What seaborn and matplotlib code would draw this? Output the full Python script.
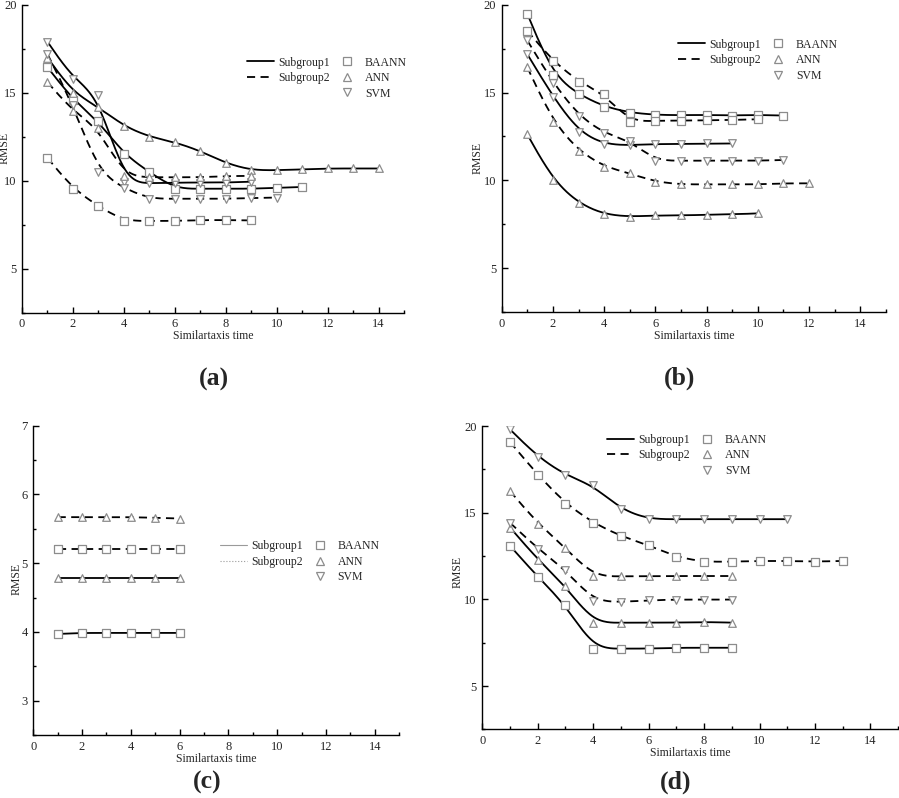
import numpy as np
import pandas as pd
import matplotlib
matplotlib.use("Agg")
import matplotlib.pyplot as plt
from matplotlib.lines import Line2D
from matplotlib.ticker import MultipleLocator
import seaborn as sns

# ------------------------------------
# DATA
# ------------------------------------

# panel (a)
A_BAANN_1 = [16.45, 14.6, 13.4, 11.5, 10.5, 9.55, 9.55, 9.55, 9.55, 9.6, 9.65]
A_ANN_1 = [17.0, 15.0, 14.2, 13.1, 12.5, 12.2, 11.7, 11.0, 10.6, 10.6, 10.65, 10.7, 10.7, 10.7]
A_SVM_1 = [17.9, 15.8, 14.85, 9.95, 9.85, 9.9, 9.9, 9.9, 9.95]
A_BAANN_2 = [11.3, 9.55, 8.55, 7.72, 7.72, 7.72, 7.77, 7.77, 7.75]
A_ANN_2 = [15.6, 13.95, 13.0, 10.28, 10.2, 10.2, 10.2, 10.27, 10.28]
A_SVM_2 = [17.2, 14.3, 10.5, 9.58, 8.98, 8.98, 8.98, 8.98, 9.02, 9.05]

# panel (b)
B_BAANN_1 = [19.49, 16.0, 14.9, 14.2, 13.86, 13.73, 13.71, 13.73, 13.69, 13.73, 13.69]
B_ANN_1 = [12.62, 10.02, 8.69, 8.06, 7.93, 8.0, 8.0, 8.04, 8.06, 8.12]
B_SVM_1 = [17.19, 14.77, 12.78, 12.05, 12.0, 12.07, 12.07, 12.1, 12.1]
B_BAANN_2 = [18.52, 16.8, 15.63, 14.92, 13.33, 13.4, 13.4, 13.42, 13.44, 13.48]
B_ANN_2 = [16.44, 13.35, 11.69, 10.78, 10.4, 9.92, 9.77, 9.77, 9.77, 9.77, 9.83, 9.83]
B_SVM_2 = [17.97, 15.57, 13.69, 12.68, 12.26, 11.12, 11.12, 11.12, 11.12, 11.12, 11.16]

# panel (c)
C_BAANN_1 = [3.97, 3.985, 3.985, 3.985, 3.985, 3.985]
C_ANN_1 = [4.78, 4.78, 4.78, 4.78, 4.78, 4.78]
C_BAANN_2 = [5.21, 5.21, 5.21, 5.21, 5.21, 5.21]
C_ANN_2 = [5.67, 5.67, 5.67, 5.67, 5.66, 5.65]

# panel (d)
D_BAANN_1 = [13.09, 11.3, 9.7, 7.16, 7.16, 7.16, 7.21, 7.21, 7.21]
D_ANN_1 = [14.15, 12.3, 10.78, 8.64, 8.66, 8.66, 8.66, 8.7, 8.66]
D_SVM_1 = [19.81, 18.23, 17.17, 16.59, 15.19, 14.63, 14.63, 14.63, 14.63, 14.63, 14.63]
D_BAANN_2 = [19.08, 17.19, 15.53, 14.42, 13.65, 13.13, 12.45, 12.16, 12.18, 12.22, 12.22, 12.18, 12.22]
D_ANN_2 = [16.25, 14.38, 12.99, 11.33, 11.33, 11.35, 11.35, 11.35, 11.35]
D_SVM_2 = [14.42, 12.93, 11.72, 9.89, 9.85, 9.95, 9.99, 9.99, 9.99]

MARKERS = {"BAANN": "s", "ANN": "^", "SVM": "v"}
DASH = (4.5, 3)

# ------------------------------------
# STYLE
# ------------------------------------

sns.set_theme(style="ticks")
plt.rcParams["font.family"] = ["Liberation Serif", "DejaVu Serif"]
plt.rcParams["font.size"] = 8.5
plt.rcParams["axes.linewidth"] = 1.0


def bspline(xs, ys, n=25):
    # uniform cubic B-spline, like Origin's smoothed connection
    P = np.column_stack([xs, ys]).astype(float)
    P = np.vstack([P[0], P[0], P, P[-1], P[-1]])
    t = np.linspace(0, 1, n)[:, None]
    b0 = (1 - t) ** 3 / 6
    b1 = (3 * t**3 - 6 * t**2 + 4) / 6
    b2 = (-3 * t**3 + 3 * t**2 + 3 * t + 1) / 6
    b3 = t**3 / 6
    segs = [b0 * P[i] + b1 * P[i + 1] + b2 * P[i + 2] + b3 * P[i + 3]
            for i in range(len(P) - 3)]
    return np.vstack(segs)


def draw_series(ax, values, model, group):
    xs = np.arange(1, len(values) + 1)
    curve = bspline(xs, values)
    sns.lineplot(x=curve[:, 0], y=curve[:, 1], ax=ax, sort=False,
                 estimator=None, color="black", lw=1.3, zorder=2)
    if group == 2:
        ax.lines[-1].set_dashes(DASH)
    sns.scatterplot(x=xs, y=values, ax=ax, marker=MARKERS[model], s=30,
                    facecolor="white", edgecolor="#8c8c8c", linewidth=0.9,
                    zorder=3)


def style_axes(ax, ylim, ymajor, ylab_xy):
    ax.set_xlim(0, 15)
    ax.set_ylim(*ylim)
    ax.xaxis.set_major_locator(MultipleLocator(2))
    ax.xaxis.set_minor_locator(MultipleLocator(1))
    ax.yaxis.set_major_locator(MultipleLocator(ymajor))
    ax.yaxis.set_minor_locator(MultipleLocator(ymajor / 2))
    ax.set_xticks(range(0, 15, 2))
    sns.despine(ax=ax)
    ax.tick_params(which="major", length=4, width=1, direction="in",
                   labelsize=9, pad=4, color="black")
    ax.tick_params(which="minor", length=2.5, width=1, direction="in",
                   color="black")
    ax.set_xlabel("Similartaxis time", fontsize=8.5, labelpad=0)
    ax.set_ylabel("RMSE", fontsize=8.5)
    ax.yaxis.set_label_coords(*ylab_xy)
    for s in ax.spines.values():
        s.set_color("black")


def add_legend(ax, anchor, thin=False):
    if thin:
        l1 = Line2D([], [], color="#9a9a9a", lw=0.8, ls="-")
        l2 = Line2D([], [], color="#9a9a9a", lw=0.8, ls=":")
    else:
        l1 = Line2D([], [], color="black", lw=1.3, ls="-")
        l2 = Line2D([], [], color="black", lw=1.3, dashes=DASH)
    blank = Line2D([], [], ls="none")
    mk = [Line2D([], [], ls="none", marker=MARKERS[m], markersize=6,
                 markerfacecolor="white", markeredgecolor="#8c8c8c",
                 markeredgewidth=0.9) for m in ["BAANN", "ANN", "SVM"]]
    ax.legend([l1, l2, blank] + mk,
              ["Subgroup1", "Subgroup2", "", "BAANN", "ANN", "SVM"],
              ncol=2, loc="upper left", bbox_to_anchor=anchor,
              frameon=False, fontsize=8.5, borderpad=0, borderaxespad=0,
              handlelength=2.3, handletextpad=0.35, columnspacing=0.3,
              labelspacing=0.3)


# ------------------------------------
# FIGURE
# ------------------------------------

fig = plt.figure(figsize=(8.99, 7.98), dpi=100)

axA = fig.add_axes([0.0245, 0.608, 0.425, 0.386])
axB = fig.add_axes([0.558, 0.609, 0.4275, 0.385])
axC = fig.add_axes([0.037, 0.079, 0.407, 0.3875])
axD = fig.add_axes([0.5365, 0.086, 0.4625, 0.380])

for vals, m, g in [(A_BAANN_1, "BAANN", 1), (A_ANN_1, "ANN", 1), (A_SVM_1, "SVM", 1),
                   (A_BAANN_2, "BAANN", 2), (A_ANN_2, "ANN", 2), (A_SVM_2, "SVM", 2)]:
    draw_series(axA, vals, m, g)

for vals, m, g in [(B_BAANN_1, "BAANN", 1), (B_ANN_1, "ANN", 1), (B_SVM_1, "SVM", 1),
                   (B_BAANN_2, "BAANN", 2), (B_ANN_2, "ANN", 2), (B_SVM_2, "SVM", 2)]:
    draw_series(axB, vals, m, g)

for vals, m, g in [(C_BAANN_1, "BAANN", 1), (C_ANN_1, "ANN", 1),
                   (C_BAANN_2, "BAANN", 2), (C_ANN_2, "ANN", 2)]:
    draw_series(axC, vals, m, g)

for vals, m, g in [(D_BAANN_1, "BAANN", 1), (D_ANN_1, "ANN", 1), (D_SVM_1, "SVM", 1),
                   (D_BAANN_2, "BAANN", 2), (D_ANN_2, "ANN", 2), (D_SVM_2, "SVM", 2)]:
    draw_series(axD, vals, m, g)

style_axes(axA, (2.5, 20), 5, (-0.030, 0.535))
style_axes(axB, (2.5, 20), 5, (-0.047, 0.503))
style_axes(axC, (2.5, 7), 1, (-0.028, 0.503))
style_axes(axD, (2.5, 20), 5, (-0.044, 0.52))

add_legend(axA, (0.589, 0.832))
add_legend(axB, (0.459, 0.89))
add_legend(axC, (0.51, 0.63), thin=True)
add_legend(axD, (0.30, 0.975))

for lab, x, y in [("(a)", 214, 379), ("(b)", 680, 378), ("(c)", 207, 782), ("(d)", 676, 782)]:
    fig.text(x / 899, 1 - y / 798, lab, ha="center", va="center",
             fontsize=18.5, fontweight="bold")

plt.savefig("out.png", dpi=100)
plt.close()
